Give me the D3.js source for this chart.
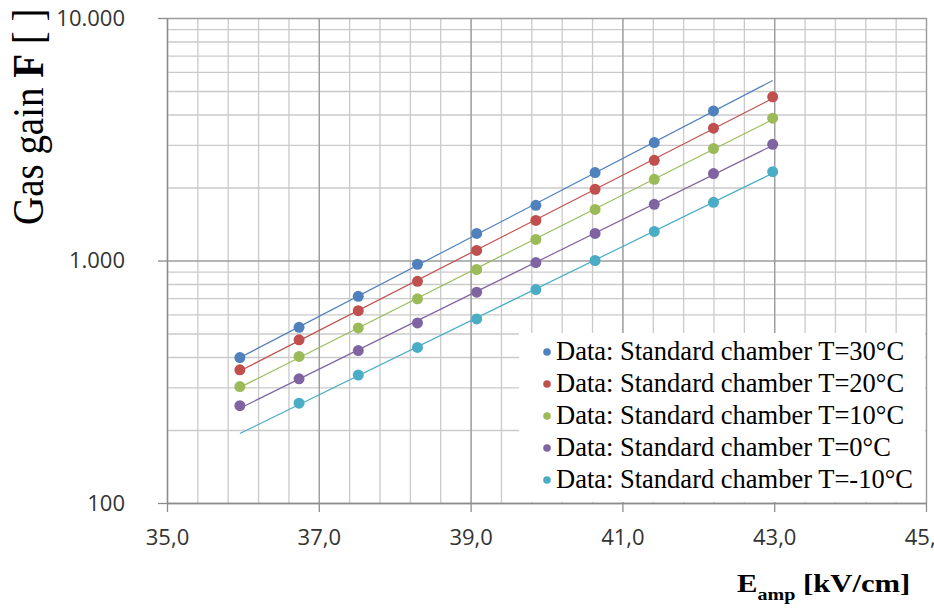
<!DOCTYPE html>
<html>
<head>
<meta charset="utf-8">
<script src="https://cdn.jsdelivr.net/npm/d3@7"></script>
<style>
body { margin: 0; background: #fff; }
.grid line { stroke: #cacaca; stroke-width: 1.3; }
.grid path { display: none; }
.grid.major line { stroke: #9c9c9c; }
.axis path, .axis line { stroke: #8c8c8c; stroke-width: 1.3; }
.axis text { font-family: "Open Sans", sans-serif; font-size: 22px; fill: #333; }
</style>
</head>
<body>
<div id="chart-area"></div>
<script>

// Amplification field (kV/cm) of each measurement
var fieldValues = [35.96, 36.74, 37.52, 38.30, 39.08, 39.86, 40.64, 41.42, 42.20, 42.98];

// Gas gain per temperature (null = no point)
var gain30  = [398, 530, 712, 965, 1293, 1688, 2304, 3065, 4140, null];
var gain20  = [354, 471, 621, 821, 1100, 1463, 1965, 2589, 3512, 4729];
var gain10  = [302, 402, 527, 695, 918, 1221, 1624, 2161, 2894, 3863];
var gain0   = [252, 325, 425, 553, 740, 981, 1293, 1704, 2282, 3015];
var gainM10 = [null, 258, 337, 438, 574, 759, 1000, 1318, 1737, 2325];

var seriesNames = [
    "Data: Standard chamber T=30°C",
    "Data: Standard chamber T=20°C",
    "Data: Standard chamber T=10°C",
    "Data: Standard chamber T=0°C",
    "Data: Standard chamber T=-10°C"
];
var seriesColors = ["#4f81bd", "#c0504d", "#9bbb59", "#8064a2", "#4bacc6"];

// Axis ticks
var xTicks = [35, 37, 39, 41, 43, 45];
var yTicks = [100, 1000, 10000];
var yMinorTicks = [200, 300, 400, 500, 600, 700, 800, 900,
                   2000, 3000, 4000, 5000, 6000, 7000, 8000, 9000];

var allSeries = [gain30, gain20, gain10, gain0, gainM10];

// Setting margin
var margin = { left: 167, right: 8, top: 18, bottom: 107 };
var width = 934 - margin.left - margin.right,
    height = 610 - margin.top - margin.bottom;

var svg = d3.select("#chart-area")
    .append("svg")
        .attr("width", 934)
        .attr("height", 610);

var g = svg.append("g")
    .attr("transform", "translate(" + margin.left + ", " + margin.top + ")");

// European number formats
var locale = d3.formatLocale({ decimal: ",", thousands: ".", grouping: [3], currency: ["", ""] });

// Scales
var x = d3.scaleLinear()
    .domain([35, 45])
    .range([0, width]);

var y = d3.scaleLog()
    .domain([100, 10000])
    .range([height, 0]);

// Minor vertical gridlines every 0.4
var xMinor = d3.range(35, 45.001, 0.4);
g.append("g")
    .attr("class", "grid")
    .attr("transform", "translate(0," + height + ")")
    .call(d3.axisBottom(x).tickValues(xMinor).tickSize(-height).tickFormat(""));

// Horizontal gridlines
g.append("g")
    .attr("class", "grid")
    .call(d3.axisLeft(y).tickValues(yMinorTicks).tickSize(-width).tickFormat(""));

g.append("g")
    .attr("class", "grid major")
    .call(d3.axisLeft(y).tickValues(yTicks).tickSize(-width).tickFormat(""));

g.append("g")
    .attr("class", "grid major")
    .attr("transform", "translate(0," + height + ")")
    .call(d3.axisBottom(x).tickValues(xTicks).tickSize(-height).tickFormat(""));

// X Axis
g.append("g")
    .attr("class", "x axis")
    .attr("transform", "translate(0," + height + ")")
    .call(d3.axisBottom(x)
        .tickValues(xTicks)
        .tickSize(9)
        .tickSizeOuter(0)
        .tickPadding(17)
        .tickFormat(locale.format(".1f")));

// Y Axis
g.append("g")
    .attr("class", "y axis")
    .call(d3.axisLeft(y)
        .tickValues(yTicks)
        .tickSize(9)
        .tickSizeOuter(0)
        .tickPadding(33)
        .tickFormat(locale.format(",.0f")));

// Exponential trendline (least squares on log of gain)
function expFit(xs, ys) {
    var pts = xs.map(function(v, i){ return [v, ys[i]]; })
        .filter(function(p){ return p[1] != null; });
    var mx = d3.mean(pts, function(p){ return p[0]; });
    var my = d3.mean(pts, function(p){ return Math.log(p[1]); });
    var sxy = d3.sum(pts, function(p){ return (p[0] - mx) * (Math.log(p[1]) - my); });
    var sxx = d3.sum(pts, function(p){ return (p[0] - mx) * (p[0] - mx); });
    var b = sxy / sxx, a = my - b * mx;
    return function(v){ return Math.exp(a + b * v); };
}

var line = d3.line()
    .x(function(d){ return x(d[0]); })
    .y(function(d){ return y(d[1]); });

var xEnds = d3.extent(fieldValues);

allSeries.forEach(function(series, i){
    var fit = expFit(fieldValues, series);
    g.append("path")
        .attr("d", line(xEnds.map(function(v){ return [v, fit(v)]; })))
        .attr("fill", "none")
        .attr("stroke", seriesColors[i])
        .attr("stroke-width", 1.2);
});

allSeries.forEach(function(series, i){
    var pts = fieldValues.map(function(v, j){ return [v, series[j]]; })
        .filter(function(p){ return p[1] != null; });
    g.selectAll(".dot" + i)
        .data(pts)
        .enter()
        .append("circle")
            .attr("cx", function(d){ return x(d[0]); })
            .attr("cy", function(d){ return y(d[1]); })
            .attr("r", 5.5)
            .attr("fill", seriesColors[i]);
});

// Legend
var legend = svg.append("g")
    .attr("transform", "translate(519, 333)");

legend.append("rect")
    .attr("width", 406)
    .attr("height", 169)
    .attr("fill", "#fff");

seriesNames.forEach(function(name, i){
    var row = legend.append("g")
        .attr("transform", "translate(0, " + (27 + i * 32) + ")");

    row.append("circle")
        .attr("cx", 28)
        .attr("cy", -8)
        .attr("r", 3.8)
        .attr("fill", seriesColors[i]);

    row.append("text")
        .attr("x", 37)
        .attr("y", 0)
        .attr("font-family", "'Liberation Serif', 'Times New Roman', serif")
        .attr("font-size", "26.5px")
        .attr("fill", "#000")
        .text(name);
});

// Y Label
var yLabel = svg.append("text")
    .attr("transform", "translate(43, 225) scale(1.12, 1) rotate(-90)")
    .attr("font-family", "'Liberation Serif', 'Times New Roman', serif")
    .attr("font-size", "39px")
    .attr("fill", "#000");
yLabel.append("tspan").text("Gas gain ");
yLabel.append("tspan").attr("font-weight", "bold").text("F");
yLabel.append("tspan").text(" [ ]");

// X Label
var xLabel = svg.append("text")
    .attr("transform", "translate(737, 592) scale(1.18, 1)")
    .attr("font-family", "'Liberation Serif', 'Times New Roman', serif")
    .attr("font-weight", "bold")
    .attr("font-size", "26px")
    .attr("fill", "#000");
xLabel.append("tspan").text("E");
xLabel.append("tspan").attr("font-size", "17px").attr("dy", 8).text("amp");
xLabel.append("tspan").attr("dy", -8).text(" [kV/cm]");

</script>
</body>
</html>
